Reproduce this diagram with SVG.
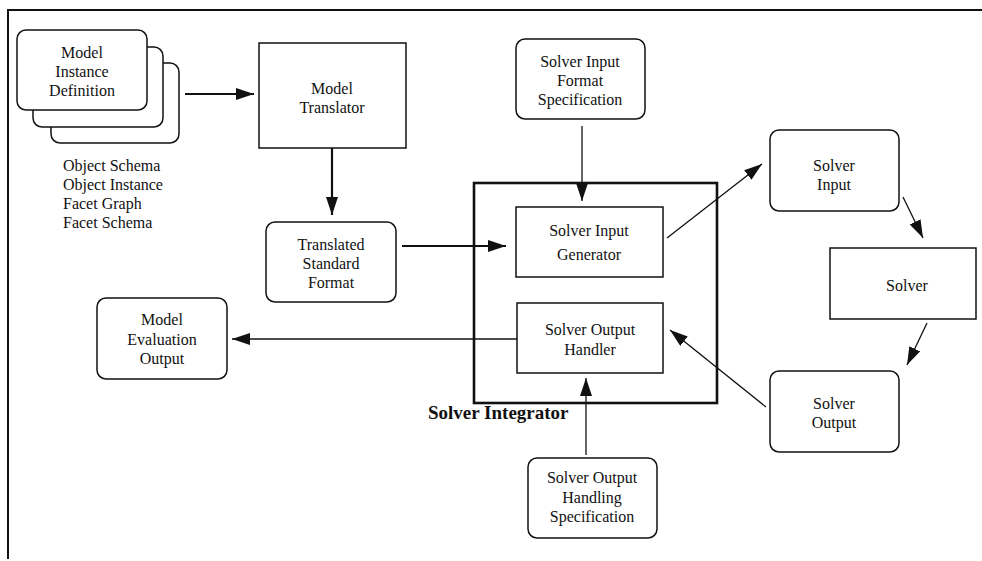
<svg xmlns="http://www.w3.org/2000/svg" width="982" height="561" viewBox="0 0 982 561">
  <style>
    .box { fill: #fff; stroke: #111; stroke-width: 1.5; }
    .frame { fill: none; stroke: #111; stroke-width: 2; }
    .t { font-family: "Liberation Serif", "Times New Roman", serif; font-size: 16px; fill: #111; text-anchor: middle; }
    .tl { font-family: "Liberation Serif", "Times New Roman", serif; font-size: 16px; fill: #111; }
    .tb { font-family: "Liberation Serif", "Times New Roman", serif; font-size: 19px; font-weight: bold; fill: #111; }
    .thin { fill: none; stroke: #111; stroke-width: 1.3; }
    .thick { fill: none; stroke: #111; stroke-width: 2.2; }
  </style>
  <defs>
    <marker id="head" markerUnits="userSpaceOnUse" markerWidth="18" markerHeight="12" refX="18" refY="6" orient="auto">
      <path d="M0,0 L18,6 L0,12 z" fill="#111"/>
    </marker>
  </defs>
  <rect width="982" height="561" fill="#fff"/>

  <!-- page frame -->
  <g id="frame">
    <path d="M8,559 L8,10 L982,10" class="frame"/>
  </g>

  <g id="model-instance-definition">
    <rect x="51" y="63" width="128" height="80" rx="9" class="box"/>
    <rect x="33" y="47" width="130" height="80" rx="9" class="box"/>
    <rect x="17" y="30" width="130" height="80" rx="9" class="box"/>
    <text class="t" x="82" y="58">Model</text>
    <text class="t" x="82" y="77">Instance</text>
    <text class="t" x="82" y="96">Definition</text>
  </g>

  <g id="schema-list">
    <text class="tl" x="63" y="171">Object Schema</text>
    <text class="tl" x="63" y="190">Object Instance</text>
    <text class="tl" x="63" y="209">Facet Graph</text>
    <text class="tl" x="63" y="228">Facet Schema</text>
  </g>

  <g id="model-translator">
    <rect x="259" y="43" width="147" height="105" class="box"/>
    <text class="t" x="332" y="94">Model</text>
    <text class="t" x="332" y="113">Translator</text>
  </g>

  <g id="translated-standard-format">
    <rect x="266" y="222" width="130" height="80" rx="9" class="box"/>
    <text class="t" x="331" y="250">Translated</text>
    <text class="t" x="331" y="269">Standard</text>
    <text class="t" x="331" y="288">Format</text>
  </g>

  <g id="solver-input-format-spec">
    <rect x="516" y="39" width="129" height="80" rx="9" class="box"/>
    <text class="t" x="580" y="67">Solver Input</text>
    <text class="t" x="580" y="86">Format</text>
    <text class="t" x="580" y="105">Specification</text>
  </g>

  <g id="solver-integrator">
    <rect x="474" y="183" width="243" height="220" fill="none" stroke="#111" stroke-width="2.6"/>
    <text class="tb" x="428" y="419">Solver Integrator</text>
  </g>

  <g id="solver-input-generator">
    <rect x="516" y="207" width="147" height="70" class="box"/>
    <text class="t" x="589" y="236">Solver Input</text>
    <text class="t" x="589" y="260">Generator</text>
  </g>

  <g id="solver-output-handler">
    <rect x="517" y="303" width="146" height="70" class="box"/>
    <text class="t" x="590" y="335">Solver Output</text>
    <text class="t" x="590" y="355">Handler</text>
  </g>

  <g id="solver-output-handling-spec">
    <rect x="528" y="458" width="129" height="80" rx="9" class="box"/>
    <text class="t" x="592" y="483">Solver Output</text>
    <text class="t" x="592" y="503">Handling</text>
    <text class="t" x="592" y="522">Specification</text>
  </g>

  <g id="model-evaluation-output">
    <rect x="97" y="298" width="130" height="81" rx="9" class="box"/>
    <text class="t" x="162" y="325">Model</text>
    <text class="t" x="162" y="345">Evaluation</text>
    <text class="t" x="162" y="364">Output</text>
  </g>

  <g id="solver-input">
    <rect x="770" y="130" width="129" height="81" rx="9" class="box"/>
    <text class="t" x="834" y="171">Solver</text>
    <text class="t" x="834" y="190">Input</text>
  </g>

  <g id="solver">
    <rect x="830" y="248" width="146" height="71" class="box"/>
    <text class="t" x="907" y="291">Solver</text>
  </g>

  <g id="solver-output">
    <rect x="770" y="371" width="129" height="81" rx="9" class="box"/>
    <text class="t" x="834" y="409">Solver</text>
    <text class="t" x="834" y="428">Output</text>
  </g>

  <g id="connectors">
    <line x1="185" y1="94" x2="254" y2="94" class="thick" marker-end="url(#head)"/>
    <line x1="332" y1="148" x2="332" y2="215" class="thick" marker-end="url(#head)"/>
    <line x1="402" y1="246" x2="506" y2="246" class="thick" marker-end="url(#head)"/>
    <line x1="582" y1="126" x2="582" y2="201" class="thin" marker-end="url(#head)"/>
    <line x1="586" y1="455" x2="586" y2="378" class="thin" marker-end="url(#head)"/>
    <line x1="517" y1="339" x2="232" y2="339" class="thin" marker-end="url(#head)"/>
    <line x1="667" y1="238" x2="762" y2="164" class="thin" marker-end="url(#head)"/>
    <line x1="903" y1="197" x2="923" y2="238" class="thin" marker-end="url(#head)"/>
    <line x1="927" y1="323" x2="907" y2="365" class="thin" marker-end="url(#head)"/>
    <line x1="766" y1="407" x2="670" y2="330" class="thin" marker-end="url(#head)"/>
  </g>
</svg>
